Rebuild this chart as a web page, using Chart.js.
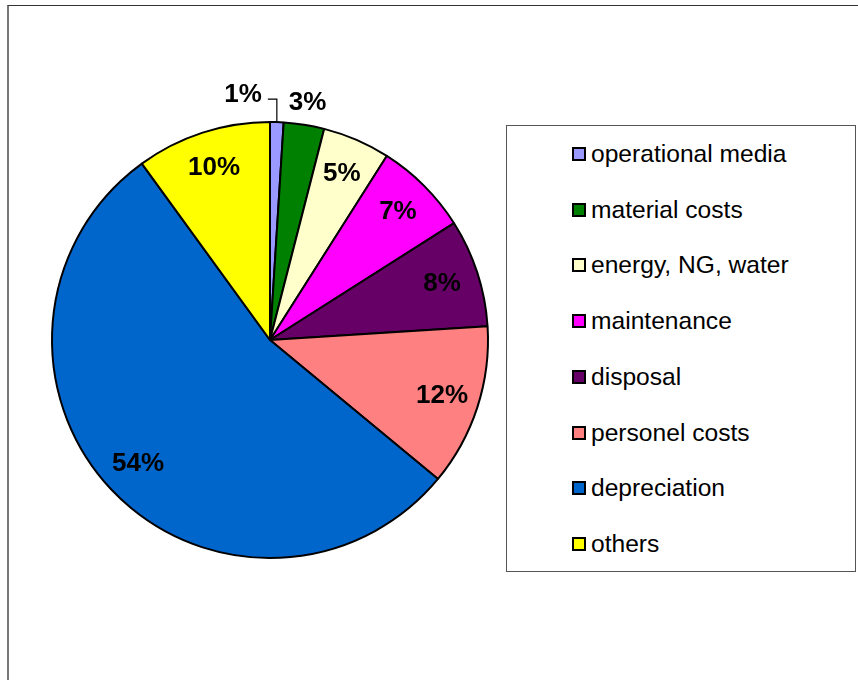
<!DOCTYPE html>
<html>
<head>
<meta charset="utf-8">
<script src="https://cdn.jsdelivr.net/npm/chart.js@4/dist/chart.umd.min.js"></script>
<style>
  html, body { margin: 0; padding: 0; background: #fff; }
  #wrap { position: relative; width: 858px; height: 680px; overflow: hidden; font-family: "Liberation Sans", Arial, sans-serif; }
  #frame { position: absolute; left: 7px; top: 5px; width: 900px; height: 720px;
           border-top: 1px solid #333; border-left: 2px solid #777; box-sizing: border-box; }
  #chart { position: absolute; left: 0; top: 0; }
  #legend { position: absolute; left: 506px; top: 125px; width: 350px; height: 447px;
            border: 1px solid #555; box-sizing: border-box; background: #fff; }
  .item { position: absolute; left: 65px; height: 28px; display: flex; align-items: center;
          font-size: 24.6px; color: #000; white-space: nowrap; }
  .sw { width: 10px; height: 10px; border: 2px solid #000; margin-right: 5px; flex: none; }
</style>
</head>
<body>
<div id="wrap">
  <div id="frame"></div>
  <canvas id="chart" width="858" height="680"></canvas>
  <div id="legend"></div>
</div>
<script>
// Cost breakdown, percent of total
const categories = ["operational media", "material costs", "energy, NG, water", "maintenance",
                    "disposal", "personel costs", "depreciation", "others"];
const shares = [1, 3, 5, 7, 8, 12, 54, 10];
const sliceColors = ["#9999FF", "#008000", "#FFFFCC", "#FF00FF", "#660066", "#FF8080", "#0066CC", "#FFFF00"];

// Percentage labels drawn on (or next to) each slice
const sliceLabels = {
  id: "sliceLabels",
  afterDatasetsDraw(chart, args, opts) {
    const ctx = chart.ctx;
    const meta = chart.getDatasetMeta(0);
    const data = chart.data.datasets[0].data;
    ctx.save();
    ctx.font = "bold 26px 'Liberation Sans', Arial, sans-serif";
    ctx.fillStyle = "#000";
    ctx.textBaseline = "middle";
    meta.data.forEach((arc, i) => {
      const p = arc.getProps(["x", "y", "startAngle", "endAngle", "outerRadius"], true);
      const mid = (p.startAngle + p.endAngle) / 2;
      const text = data[i] + "%";
      const special = opts.special[i] || {};
      if (special.leader) {
        // short elbow leader from the rim up and to the left
        const ex = p.x + Math.cos(mid) * p.outerRadius;
        const ey = p.y + Math.sin(mid) * p.outerRadius;
        const ty = ey - special.leader.rise;
        const tx = ex - special.leader.run;
        ctx.strokeStyle = "#000";
        ctx.lineWidth = 1.2;
        ctx.beginPath();
        ctx.moveTo(ex, ey);
        ctx.lineTo(ex, ty);
        ctx.lineTo(tx, ty);
        ctx.stroke();
        ctx.textAlign = "right";
        ctx.fillText(text, tx - 6, ty - 4);
      } else {
        const f = special.radius || opts.radius;
        ctx.textAlign = "center";
        ctx.fillText(text, p.x + Math.cos(mid) * p.outerRadius * f, p.y + Math.sin(mid) * p.outerRadius * f);
      }
    });
    ctx.restore();
  }
};

const chart = new Chart(document.getElementById("chart"), {
  type: "pie",
  data: {
    labels: categories,
    datasets: [{
      data: shares,
      backgroundColor: sliceColors,
      borderColor: "#000",
      borderWidth: 2
    }]
  },
  options: {
    responsive: false,
    animation: false,
    devicePixelRatio: 1,
    radius: 218,
    layout: { padding: { left: 50, right: 368, top: 120, bottom: 120 } },
    plugins: {
      legend: { display: false },
      tooltip: { enabled: false },
      sliceLabels: {
        radius: 0.83,
        special: { 0: { leader: { rise: 23, run: 9 } }, 1: { radius: 1.1 } }
      }
    }
  },
  plugins: [sliceLabels]
});

// Legend box built from the chart's own labels and colours
const legend = document.getElementById("legend");
chart.data.labels.forEach((name, i) => {
  const row = document.createElement("div");
  row.className = "item";
  row.style.top = (14 + i * 55.7) + "px";
  const sw = document.createElement("span");
  sw.className = "sw";
  sw.style.background = chart.data.datasets[0].backgroundColor[i];
  const label = document.createElement("span");
  label.textContent = name;
  row.appendChild(sw);
  row.appendChild(label);
  legend.appendChild(row);
});
</script>
</body>
</html>
